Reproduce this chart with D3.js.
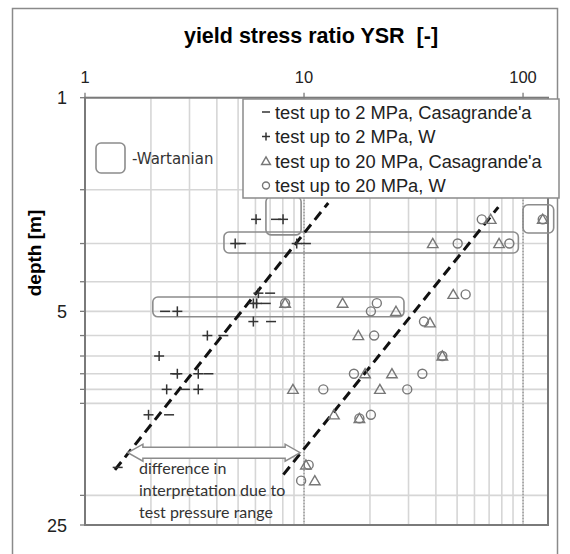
<!DOCTYPE html>
<html>
<head>
<meta charset="utf-8">
<script src="https://cdn.jsdelivr.net/npm/d3@7"></script>
<style>
  body { margin: 0; background: #fff; }
  text { font-family: "Liberation Sans", Arial, sans-serif; }
</style>
</head>
<body>
<div id="chart"></div>
<script>
// YSR vs depth, four series
var dashCasa = [[7.45,2.5],[10.2,3.0],[5.15,3.0],[7.0,4.36],[6.69,4.71],[2.32,5.0],[7.07,5.4],[4.28,6.0],[2.58,8.0],[3.66,8.0],[2.86,9.0],[2.42,10.9],[1.41,16.2]];
var plusW = [[8.02,2.5],[6.04,2.5],[4.85,3.0],[9.26,3.0],[6.19,4.36],[5.87,4.71],[6.08,4.71],[2.64,5.0],[5.87,5.4],[3.62,6.0],[2.18,7.0],[2.64,8.0],[3.29,8.0],[2.36,9.0],[3.29,9.0],[1.95,10.9]];
var triCasa = [[71.2,2.5],[123,2.5],[38.7,3.0],[77.7,3.0],[48.0,4.4],[8.2,4.7],[15.0,4.7],[26.3,5.0],[37.6,5.45],[17.7,6.0],[42.8,7.0],[19.0,8.0],[25.2,8.0],[8.9,9.0],[22.2,9.0],[13.7,10.9],[17.9,11.2],[10.2,15.9],[11.2,17.9]];
var circW = [[64.8,2.5],[123,2.5],[50.3,3.0],[86.6,3.0],[54.7,4.4],[8.2,4.7],[21.5,4.7],[20.2,5.0],[35.3,5.4],[20.9,6.0],[42.8,7.0],[16.9,8.0],[34.7,8.0],[12.25,9.0],[29.6,9.0],[17.9,11.2],[20.2,10.9],[10.5,15.9],[9.7,17.9]];

// dashed trend lines [x, depth]
var trendLow = [[1.37,16.5],[12.9,2.21]];
var trendHigh = [[8.05,17.1],[77.1,2.28]];

// Wartanian boxes [x0, x1, d0, d1]
var wartanian = [[6.7,9.7,2.11,2.81],[4.31,95.2,2.75,3.22],[2.04,28.6,4.49,5.21],[100,138,2.24,2.77]];

// arrow span (x) at depth
var arrowSpan = [1.57, 9.6];
var arrowDepth = 14.5;

var xTicks = [1, 10, 100];
var yTicks = [1, 5, 25];
var xGrid = [2,3,4,5,6,7,8,9,10,20,30,40,50,60,70,80,90,100];
var yGrid = [1,2,3,4,5,6,7,8,9,10,20,25];

var legendLabels = ["test up to 2 MPa, Casagrande'a","test up to 2 MPa, W","test up to 20 MPa, Casagrande'a","test up to 20 MPa, W"];
var noteLines = ["difference in","interpretation due to","test pressure range"];

var width = 570, height = 554;
var pL = 85, pR = 548, pT = 97.7, pB = 525;

var svg = d3.select("#chart").append("svg")
    .attr("width", width).attr("height", height);

var x = d3.scaleLog().domain([1, 130]).range([pL, pR]);
var y = d3.scaleLog().domain([1, 25]).range([pT, pB]);

// outer frame
svg.append("path")
   .attr("d", "M12.5,560 L12.5,8.5 L557.5,8.5 L557.5,560")
   .attr("fill", "none").attr("stroke", "#8a8a8a").attr("stroke-width", 1.5);

svg.append("text").attr("x", 311).attr("y", 43)
   .attr("text-anchor", "middle").style("font-weight", "bold").style("font-size", "21.5px")
   .style("white-space", "pre")
   .text("yield stress ratio YSR  [-]");

svg.append("text")
   .attr("transform", "translate(41,253) rotate(-90)")
   .attr("text-anchor", "middle").style("font-weight", "bold").style("font-size", "19px")
   .text("depth [m]");

// grid
svg.selectAll(".vg").data(xGrid).enter().append("line")
   .attr("x1", function(d) { return x(d); }).attr("x2", function(d) { return x(d); })
   .attr("y1", pT).attr("y2", pB)
   .attr("stroke", "#d6d6d6").attr("stroke-width", 1.6);
svg.selectAll(".hg").data(yGrid).enter().append("line")
   .attr("x1", pL).attr("x2", pR)
   .attr("y1", function(d) { return y(d); }).attr("y2", function(d) { return y(d); })
   .attr("stroke", "#d6d6d6").attr("stroke-width", 1.6);
svg.selectAll(".dg").data([10, 100]).enter().append("line")
   .attr("x1", function(d) { return x(d); }).attr("x2", function(d) { return x(d); })
   .attr("y1", pT).attr("y2", pB)
   .attr("stroke", "#8a8a8a").attr("stroke-width", 1.2).attr("stroke-dasharray", "1.5,1.5");

// plot border
svg.append("rect").attr("x", pL).attr("y", pT)
   .attr("width", pR - pL).attr("height", pB - pT)
   .attr("fill", "none").attr("stroke", "#7a7a7a").attr("stroke-width", 2);

// ticks
svg.selectAll(".lt").data(yGrid).enter().append("line")
   .attr("x1", pL - 5).attr("x2", pL)
   .attr("y1", function(d) { return y(d); }).attr("y2", function(d) { return y(d); })
   .attr("stroke", "#7a7a7a").attr("stroke-width", 1.3);
svg.selectAll(".tt").data(xTicks).enter().append("line")
   .attr("x1", function(d) { return x(d); }).attr("x2", function(d) { return x(d); })
   .attr("y1", pT - 5).attr("y2", pT)
   .attr("stroke", "#7a7a7a").attr("stroke-width", 1.3);
svg.selectAll(".tl").data(xTicks).enter().append("text")
   .attr("x", function(d) { return x(d); }).attr("y", 83)
   .attr("text-anchor", "middle").style("font-size", "16.5px").attr("fill", "#222")
   .text(function(d) { return d; });
svg.selectAll(".yl").data(yTicks).enter().append("text")
   .attr("x", 67).attr("y", function(d) { return y(d) + 6.5; })
   .attr("text-anchor", "end").style("font-size", "18px").attr("fill", "#222")
   .text(function(d) { return d; });

// Wartanian boxes
svg.selectAll(".wb").data(wartanian).enter().append("rect")
   .attr("x", function(d) { return x(d[0]); })
   .attr("y", function(d) { return y(d[2]); })
   .attr("width", function(d) { return x(d[1]) - x(d[0]); })
   .attr("height", function(d) { return y(d[3]) - y(d[2]); })
   .attr("rx", 5).attr("fill", "none").attr("stroke", "#8c8c8c").attr("stroke-width", 1.6);

// trend lines
var line = d3.line().x(function(d) { return x(d[0]); }).y(function(d) { return y(d[1]); });
svg.selectAll(".trend").data([trendLow, trendHigh]).enter().append("path")
   .attr("d", line).attr("fill", "none")
   .attr("stroke", "#111").attr("stroke-width", 3).attr("stroke-dasharray", "10,6");

// markers
function dash(g, cx, cy, s) {
  g.append("line").attr("x1", cx - s).attr("x2", cx + s).attr("y1", cy).attr("y2", cy)
   .attr("stroke", "#333").attr("stroke-width", 1.5);
}
function plus(g, cx, cy, s) {
  dash(g, cx, cy, s);
  g.append("line").attr("x1", cx).attr("x2", cx).attr("y1", cy - s).attr("y2", cy + s)
   .attr("stroke", "#333").attr("stroke-width", 1.5);
}
function triangle(g, cx, cy, sz) {
  g.append("path").attr("d", d3.symbol().type(d3.symbolTriangle).size(sz)())
   .attr("transform", "translate(" + cx + "," + (cy + 1) + ")")
   .attr("fill", "none").attr("stroke", "#777").attr("stroke-width", 1.4);
}
function circle(g, cx, cy, r) {
  g.append("circle").attr("cx", cx).attr("cy", cy).attr("r", r)
   .attr("fill", "none").attr("stroke", "#777").attr("stroke-width", 1.4);
}

var marks = svg.append("g");
dashCasa.forEach(function(d) { dash(marks, x(d[0]), y(d[1]), 5); });
plusW.forEach(function(d) { plus(marks, x(d[0]), y(d[1]), 5); });
triCasa.forEach(function(d) { triangle(marks, x(d[0]), y(d[1]), 48); });
circW.forEach(function(d) { circle(marks, x(d[0]), y(d[1]), 4.5); });

// legend
var lg = svg.append("g");
lg.append("rect").attr("x", 243).attr("y", 99).attr("width", 316).attr("height", 99)
  .attr("fill", "#fff").attr("stroke", "#8a8a8a").attr("stroke-width", 1.5);
legendLabels.forEach(function(t, i) {
  var cy = 112 + i * 24.5;
  if (i === 0) dash(lg, 266, cy, 4);
  if (i === 1) plus(lg, 266, cy, 4);
  if (i === 2) triangle(lg, 266, cy, 34);
  if (i === 3) circle(lg, 266, cy, 3.5);
  lg.append("text").attr("x", 275).attr("y", cy + 6.5)
    .style("font-size", "18.3px").attr("fill", "#222").text(t);
});

// Wartanian legend
svg.append("rect").attr("x", 96).attr("y", 143).attr("width", 29).attr("height", 30)
   .attr("rx", 5).attr("fill", "none").attr("stroke", "#8c8c8c").attr("stroke-width", 1.6);
svg.append("text").attr("x", 132).attr("y", 164)
   .style("font-family", "'DejaVu Sans', sans-serif").style("font-size", "15px").attr("fill", "#333")
   .text("-Wartanian");

// arrow
var ax0 = x(arrowSpan[0]), ax1 = x(arrowSpan[1]), ay = y(arrowDepth);
var hl = 15, sh = 5.5, hh = 8.5;
var pts = [[ax0, ay], [ax0 + hl, ay - hh], [ax0 + hl, ay - sh], [ax1 - hl, ay - sh], [ax1 - hl, ay - hh],
           [ax1, ay], [ax1 - hl, ay + hh], [ax1 - hl, ay + sh], [ax0 + hl, ay + sh], [ax0 + hl, ay + hh]];
svg.append("path").attr("d", "M" + pts.join("L") + "Z")
   .attr("fill", "#fff").attr("stroke", "#8c8c8c").attr("stroke-width", 1.5);

noteLines.forEach(function(t, i) {
  svg.append("text").attr("x", 139).attr("y", 474 + i * 22)
     .style("font-family", "Lato, 'Open Sans', sans-serif").style("font-size", "16px").attr("fill", "#333")
     .text(t);
});
</script>
</body>
</html>
